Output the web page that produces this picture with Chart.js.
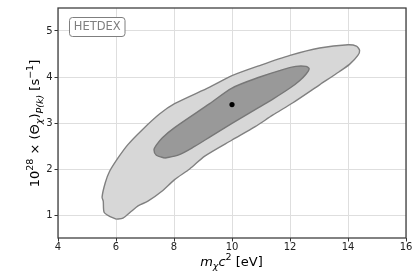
<!DOCTYPE html>
<html>
<head>
<meta charset="utf-8">
<script src="https://cdn.jsdelivr.net/npm/chart.js@4/dist/chart.umd.min.js"></script>
<style>
  html, body { margin: 0; padding: 0; background: #fff; }
</style>
</head>
<body>
<canvas id="chart" width="415" height="277"></canvas>
<script>
'use strict';

// tick labels
const xTicks = [4, 6, 8, 10, 12, 14, 16];
const yTicks = [1, 2, 3, 4, 5];

// outer (95%) contour
const outerX = [6.01, 6.24, 6.53, 6.76, 7.10, 7.57, 8.02, 8.54, 9.06, 10.0, 10.8, 11.4, 12.1, 13.02, 13.71, 14.06, 14.34, 14.40, 14.29, 14.0, 13.02, 12.0, 11.0, 10.0, 9.23, 8.02, 7.51, 6.90, 6.41, 6.07, 5.78, 5.63, 5.52, 5.56, 5.59, 5.78, 6.01];
const outerY = [0.91, 0.93, 1.08, 1.20, 1.30, 1.51, 1.77, 2.00, 2.28, 2.63, 2.92, 3.17, 3.44, 3.83, 4.12, 4.28, 4.47, 4.58, 4.67, 4.70, 4.63, 4.47, 4.26, 4.03, 3.78, 3.42, 3.20, 2.85, 2.53, 2.24, 1.95, 1.70, 1.39, 1.30, 1.06, 0.97, 0.91];

// inner (68%) contour
const innerX = [7.68, 8.14, 8.71, 9.30, 10.0, 10.9, 11.41, 12.0, 12.33, 12.55, 12.66, 12.55, 12.2, 11.64, 10.96, 10.0, 9.23, 8.02, 7.60, 7.39, 7.31, 7.39, 7.68];
const innerY = [2.24, 2.30, 2.49, 2.72, 2.99, 3.33, 3.52, 3.76, 3.92, 4.06, 4.18, 4.23, 4.23, 4.14, 4.00, 3.76, 3.42, 2.90, 2.68, 2.52, 2.42, 2.30, 2.24];

// best fit point
const bestX = [10.0];
const bestY = [3.4];

const boxLabel = 'HETDEX';

function toPoints(xs, ys) {
  return xs.map((x, i) => ({ x: x, y: ys[i] }));
}

function drawRuns(ctx, runs, x, y) {
  let total = 0;
  runs.forEach(r => {
    ctx.font = r.font;
    r.w = ctx.measureText(r.text).width;
    total += r.w;
  });
  let cx = x - total / 2;
  ctx.textAlign = 'left';
  ctx.textBaseline = 'alphabetic';
  runs.forEach(r => {
    ctx.font = r.font;
    ctx.fillText(r.text, cx, y + (r.dy || 0));
    cx += r.w;
  });
}

const FONT = '"DejaVu Sans", sans-serif';
const big = '13px ' + FONT;
const small = '9.5px ' + FONT;
const bigIt = 'oblique 13px ' + FONT;
const smallIt = 'oblique 9.5px ' + FONT;

const decorPlugin = {
  id: 'decor',
  afterDatasetsDraw(chart) {
    const ctx = chart.ctx;
    const a = chart.chartArea;
    ctx.save();
    ctx.strokeStyle = '#404040';
    ctx.lineWidth = 1.3;
    ctx.strokeRect(a.left, a.top, a.right - a.left, a.bottom - a.top);

    // label box
    ctx.fillStyle = '#fff';
    ctx.strokeStyle = '#7f7f7f';
    ctx.lineWidth = 1;
    ctx.beginPath();
    ctx.roundRect(69.5, 17.5, 55.5, 19, 3);
    ctx.fill();
    ctx.stroke();
    ctx.fillStyle = '#7f7f7f';
    ctx.font = '11.5px ' + FONT;
    ctx.textAlign = 'center';
    ctx.textBaseline = 'middle';
    ctx.fillText(boxLabel, 97.2, 27.5);
    ctx.restore();
  },
  afterDraw(chart) {
    const ctx = chart.ctx;
    ctx.save();
    ctx.fillStyle = '#000';
    drawRuns(ctx, [
      { text: 'm', font: bigIt },
      { text: 'χ', font: smallIt, dy: 3 },
      { text: 'c', font: bigIt },
      { text: '2', font: small, dy: -6 },
      { text: ' [eV]', font: big }
    ], 231.5, 266);

    ctx.translate(39, 123.5);
    ctx.rotate(-Math.PI / 2);
    drawRuns(ctx, [
      { text: '10', font: big },
      { text: '28', font: small, dy: -6 },
      { text: ' × (Θ', font: big },
      { text: 'χ', font: smallIt, dy: 3 },
      { text: ')', font: big },
      { text: 'P(k)', font: smallIt, dy: 4 },
      { text: ' [s', font: big },
      { text: '−1', font: small, dy: -6 },
      { text: ']', font: big }
    ], 0, 0);
    ctx.restore();
  }
};

const grid = {
  color: '#dedede',
  lineWidth: 1,
  tickColor: '#333',
  tickLength: 3.5
};

new Chart(document.getElementById('chart').getContext('2d'), {
  type: 'scatter',
  data: {
    datasets: [
      {
        data: toPoints(bestX, bestY),
        pointRadius: 2.6,
        pointBackgroundColor: '#000',
        pointBorderWidth: 0,
        order: 0
      },
      {
        data: toPoints(innerX, innerY),
        showLine: true,
        fill: 'shape',
        backgroundColor: '#999999',
        borderColor: '#777777',
        borderWidth: 1.4,
        tension: 0.3,
        pointRadius: 0,
        order: 1
      },
      {
        data: toPoints(outerX, outerY),
        showLine: true,
        fill: 'shape',
        backgroundColor: '#d7d7d7',
        borderColor: '#808080',
        borderWidth: 1.4,
        tension: 0.25,
        pointRadius: 0,
        order: 2
      }
    ]
  },
  options: {
    responsive: false,
    devicePixelRatio: 1,
    animation: false,
    layout: { padding: { top: 8, right: 9, left: 0, bottom: 0 } },
    plugins: {
      legend: { display: false },
      tooltip: { enabled: false }
    },
    scales: {
      x: {
        min: 4,
        max: 16,
        afterBuildTicks: s => { s.ticks = xTicks.map(v => ({ value: v })); },
        afterFit: s => { s.height = 39; },
        grid: grid,
        border: { display: false },
        ticks: {
          font: { family: FONT, size: 10 },
          color: '#222',
          padding: 0,
          maxRotation: 0
        }
      },
      y: {
        min: 0.5,
        max: 5.5,
        afterBuildTicks: s => { s.ticks = yTicks.map(v => ({ value: v })); },
        afterFit: s => { s.width = 58; },
        grid: grid,
        border: { display: false },
        ticks: {
          font: { family: FONT, size: 10 },
          color: '#222',
          padding: 2
        }
      }
    }
  },
  plugins: [decorPlugin]
});
</script>
</body>
</html>
